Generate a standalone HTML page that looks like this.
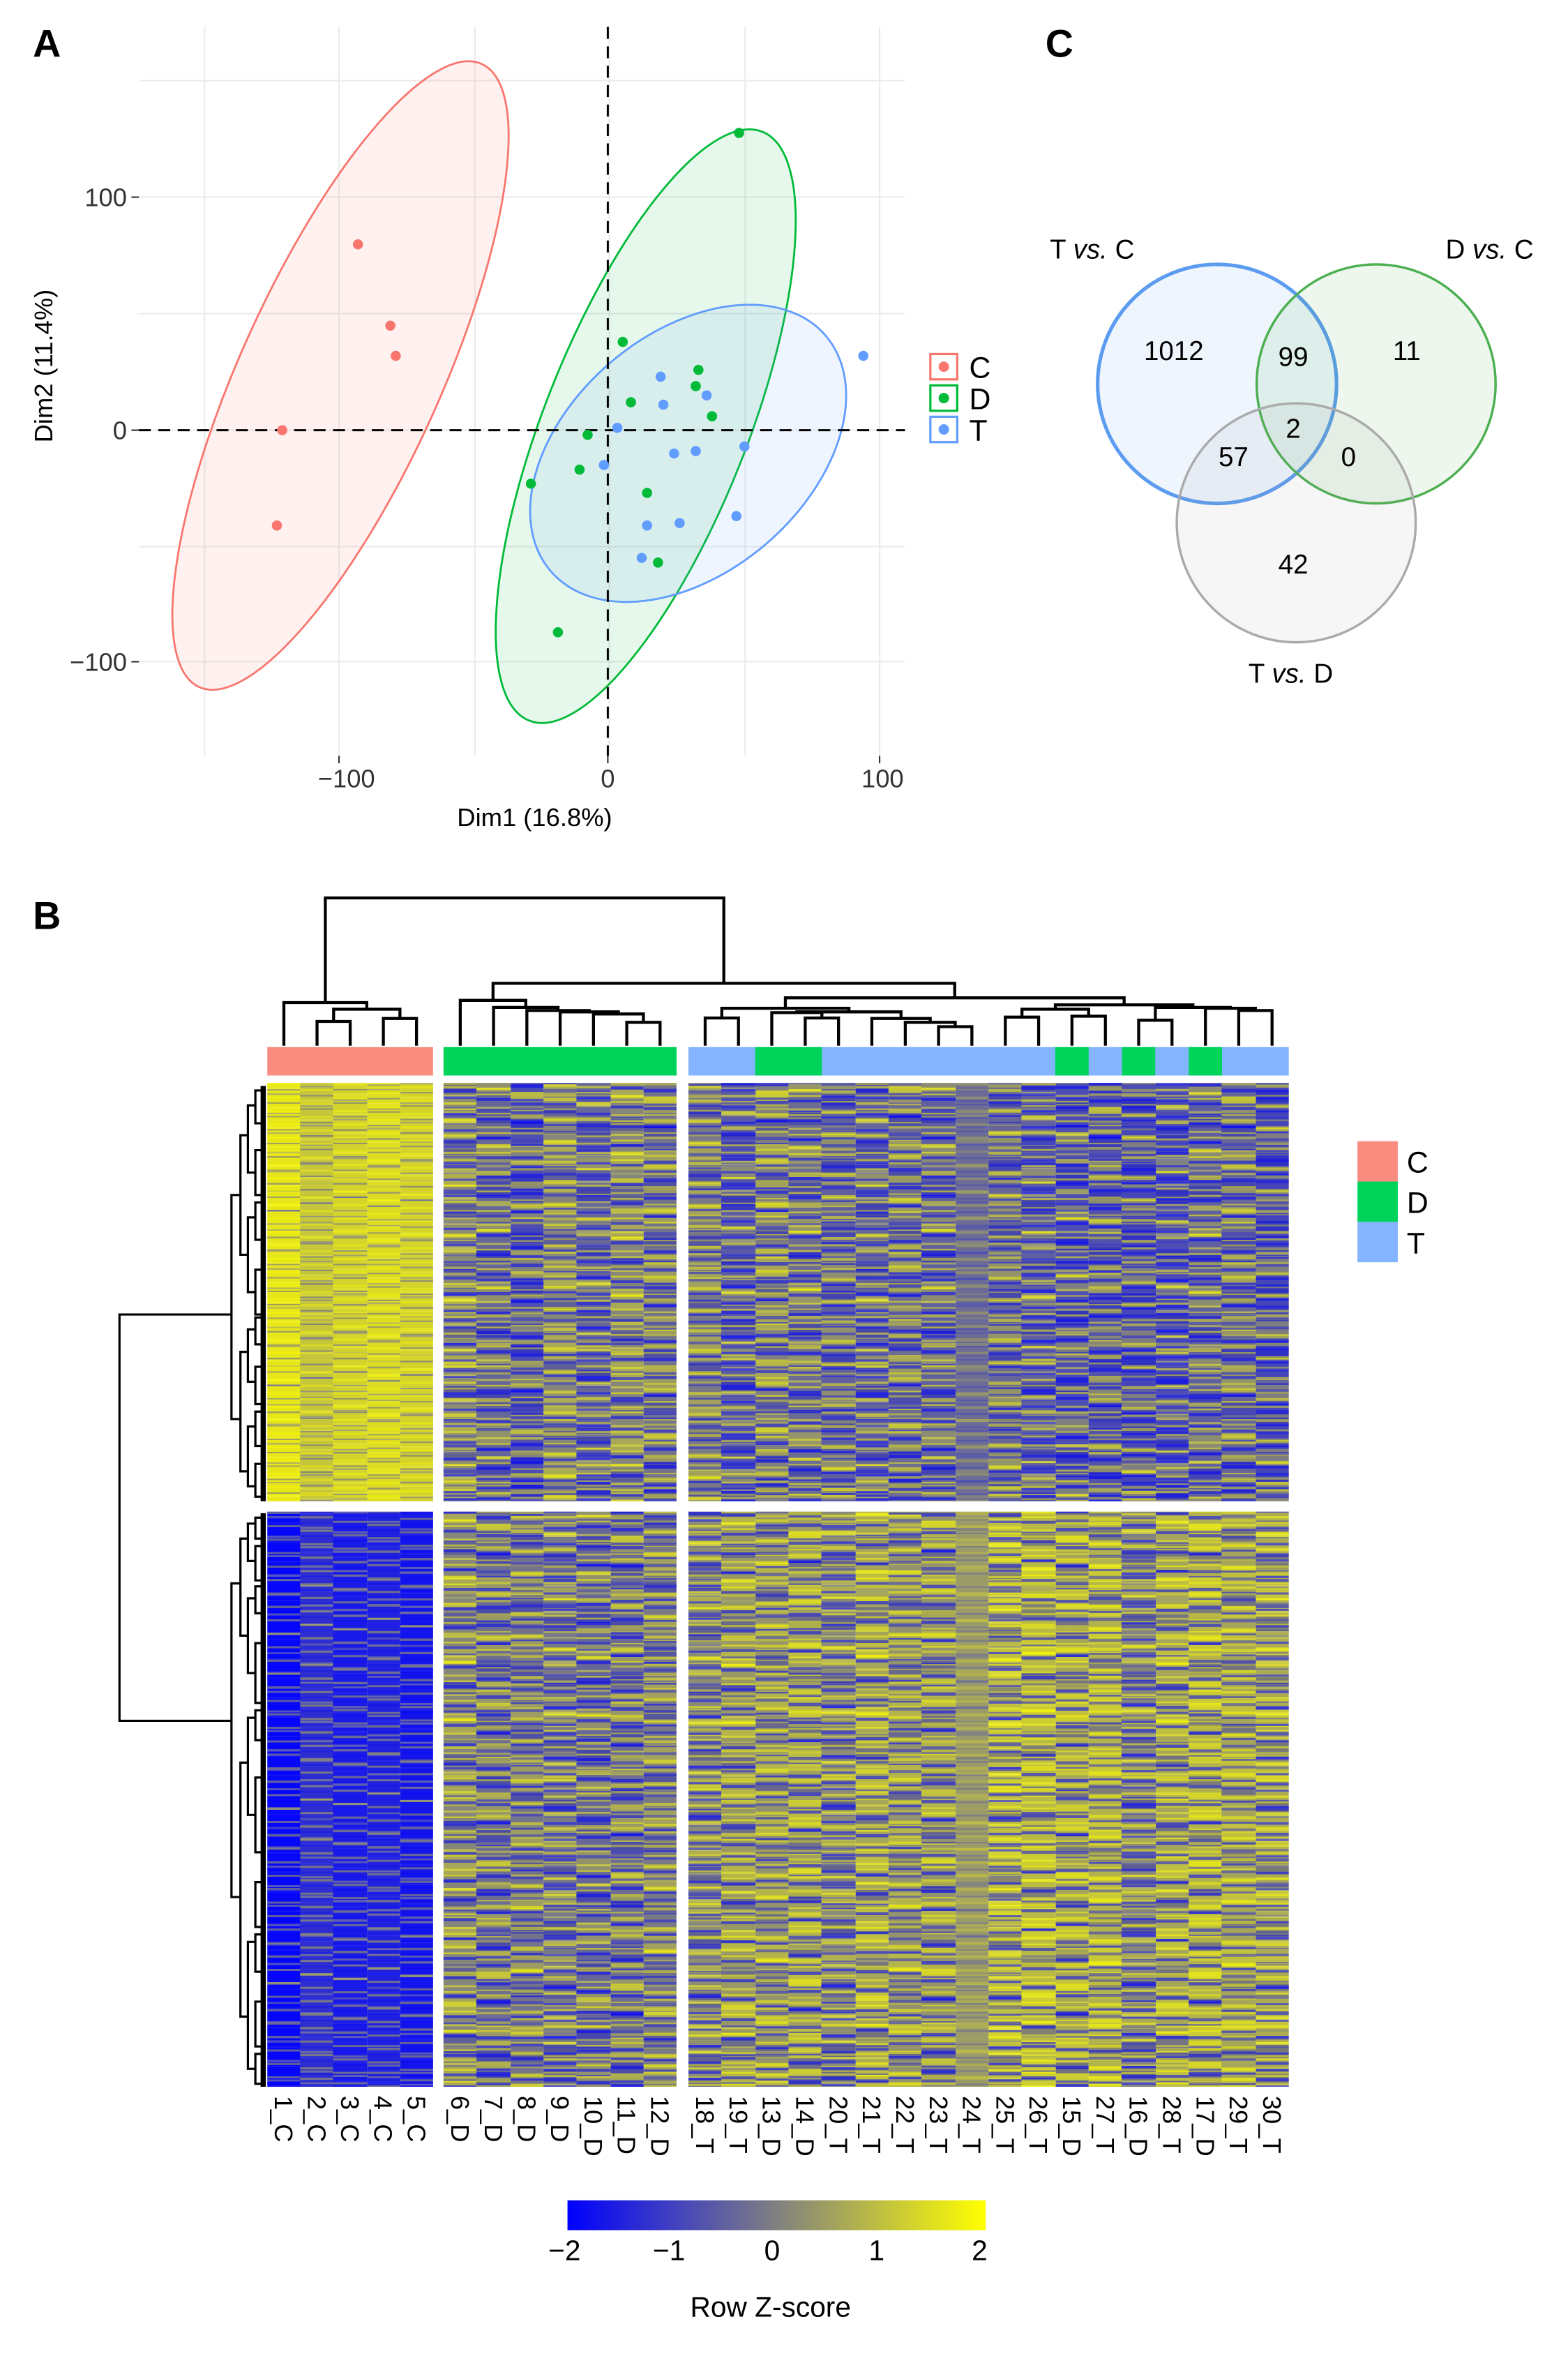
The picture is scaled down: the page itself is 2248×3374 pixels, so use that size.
<!DOCTYPE html>
<html><head><meta charset="utf-8">
<style>
html,body{margin:0;padding:0;background:#fff;}
#wrap{position:absolute;left:0;top:0;width:1050px;height:1576px;transform:scale(2.141);transform-origin:0 0;}
svg{position:absolute;left:0;top:0;font-family:"Liberation Sans",Arial,sans-serif;}
.h{position:absolute;}
.pa{background-image:
repeating-linear-gradient(180deg,rgba(20,20,255,.6) 0 1.5px,transparent 1.5px 4px,rgba(250,250,20,.55) 4px 5.5px,transparent 5.5px 7px,rgba(40,40,230,.4) 7px 8px,transparent 8px 11px),
repeating-linear-gradient(180deg,transparent 0 2px,rgba(255,255,0,.45) 2px 3.2px,transparent 3.2px 6px,rgba(0,0,255,.45) 6px 8.5px,transparent 8.5px 10px,rgba(255,255,60,.4) 10px 12px,transparent 12px 17px),
repeating-linear-gradient(180deg,rgba(0,0,200,.3) 0 9px,transparent 9px 21px,rgba(255,255,0,.3) 21px 30px,transparent 30px 41px);}
.pb{background-image:
repeating-linear-gradient(180deg,rgba(255,255,0,.55) 0 1.2px,transparent 1.2px 3px,rgba(0,0,255,.55) 3px 5px,transparent 5px 9px,rgba(255,255,30,.45) 9px 10.5px,transparent 10.5px 13px),
repeating-linear-gradient(180deg,transparent 0 4px,rgba(0,0,255,.45) 4px 5.5px,transparent 5.5px 9px,rgba(255,255,0,.45) 9px 11px,transparent 11px 19px),
repeating-linear-gradient(180deg,rgba(255,255,0,.28) 0 12px,transparent 12px 25px,rgba(0,0,220,.3) 25px 33px,transparent 33px 47px);}
.pc{background-image:
repeating-linear-gradient(180deg,rgba(0,0,255,.55) 0 2.2px,transparent 2.2px 5px,rgba(255,255,0,.5) 5px 6px,transparent 6px 8px,rgba(255,255,0,.4) 8px 9.5px,transparent 9.5px 12px),
repeating-linear-gradient(180deg,transparent 0 3px,rgba(255,255,0,.45) 3px 5px,transparent 5px 7px,rgba(0,0,255,.45) 7px 8.2px,transparent 8.2px 15px),
repeating-linear-gradient(180deg,rgba(0,0,220,.3) 0 7px,transparent 7px 17px,rgba(255,255,0,.3) 17px 28px,transparent 28px 37px);}
.pd{background-image:
repeating-linear-gradient(180deg,rgba(255,255,0,.5) 0 2px,transparent 2px 3.5px,rgba(0,0,255,.55) 3.5px 4.8px,transparent 4.8px 8px,rgba(0,0,255,.4) 8px 10px,transparent 10px 14px),
repeating-linear-gradient(180deg,transparent 0 5px,rgba(255,255,0,.45) 5px 6.5px,transparent 6.5px 11px,rgba(255,255,0,.35) 11px 13px,transparent 13px 16px),
repeating-linear-gradient(180deg,rgba(255,255,0,.3) 0 10px,transparent 10px 19px,rgba(0,0,220,.3) 19px 26px,transparent 26px 43px);}
.pl{background-image:
repeating-linear-gradient(180deg,rgba(255,255,0,.35) 0 1.5px,transparent 1.5px 4px,rgba(0,0,255,.3) 4px 5px,transparent 5px 9px),
repeating-linear-gradient(180deg,transparent 0 3px,rgba(255,255,60,.3) 3px 4.5px,transparent 4.5px 7px,rgba(60,60,255,.3) 7px 8px,transparent 8px 13px);}
.pg{background-image:
repeating-linear-gradient(180deg,rgba(255,255,0,.22) 0 2px,transparent 2px 5px,rgba(0,0,255,.2) 5px 6px,transparent 6px 9px),
repeating-linear-gradient(180deg,transparent 0 4px,rgba(255,255,0,.15) 4px 6px,transparent 6px 11px,rgba(0,0,255,.15) 11px 13px,transparent 13px 17px);}
</style></head>
<body>
<div id="wrap">
<svg width="1050" height="1576" viewBox="0 0 1050 1576">
<rect width="1050" height="1576" fill="#fff"/>
<!-- Panel A -->
<text x="22" y="38" font-size="26" font-weight="bold">A</text>
<g stroke="#ebebeb" stroke-width="1">
<line x1="93" x2="606" y1="54" y2="54"/><line x1="93" x2="606" y1="132" y2="132"/><line x1="93" x2="606" y1="210" y2="210"/><line x1="93" x2="606" y1="288" y2="288"/><line x1="93" x2="606" y1="366" y2="366"/><line x1="93" x2="606" y1="443" y2="443"/>
<line y1="18" y2="506" x1="137" x2="137"/><line y1="18" y2="506" x1="227" x2="227"/><line y1="18" y2="506" x1="318" x2="318"/><line y1="18" y2="506" x1="408" x2="408"/><line y1="18" y2="506" x1="499" x2="499"/><line y1="18" y2="506" x1="589" x2="589"/>
</g>
<ellipse cx="228" cy="251.4" rx="229" ry="67" transform="rotate(-65.6 228 251.4)" fill="#F8766D" fill-opacity="0.1" stroke="#F8766D" stroke-width="1.3"/>
<ellipse cx="432.4" cy="285.3" rx="212" ry="68" transform="rotate(-68.4 432.4 285.3)" fill="#00BA38" fill-opacity="0.1" stroke="#00BA38" stroke-width="1.3"/>
<ellipse cx="460.8" cy="303.5" rx="121.2" ry="80" transform="rotate(-40.5 460.8 303.5)" fill="#619CFF" fill-opacity="0.1" stroke="#619CFF" stroke-width="1.3"/>
<line x1="93" x2="606" y1="288" y2="288" stroke="#000" stroke-width="1.4" stroke-dasharray="8,5"/>
<line x1="407" x2="407" y1="18" y2="506" stroke="#000" stroke-width="1.4" stroke-dasharray="8,5"/>
<g fill="#F8766D"><circle cx="239.7" cy="163.6" r="3.4"/><circle cx="261.4" cy="218" r="3.4"/><circle cx="265" cy="238.2" r="3.4"/><circle cx="189" cy="288" r="3.4"/><circle cx="185.4" cy="351.8" r="3.4"/></g>
<g fill="#00BA38"><circle cx="494.9" cy="89" r="3.4"/><circle cx="417" cy="228.9" r="3.4"/><circle cx="467.7" cy="247.6" r="3.4"/><circle cx="465.9" cy="258.5" r="3.4"/><circle cx="422.5" cy="269.3" r="3.4"/><circle cx="476.8" cy="278.7" r="3.4"/><circle cx="393.5" cy="291.1" r="3.4"/><circle cx="388.1" cy="314.4" r="3.4"/><circle cx="355.5" cy="323.8" r="3.4"/><circle cx="433.3" cy="330" r="3.4"/><circle cx="440.6" cy="376.6" r="3.4"/><circle cx="373.6" cy="423.3" r="3.4"/></g>
<g fill="#619CFF"><circle cx="578.1" cy="238.2" r="3.4"/><circle cx="442.4" cy="252.2" r="3.4"/><circle cx="473.2" cy="264.7" r="3.4"/><circle cx="444.2" cy="270.9" r="3.4"/><circle cx="413.4" cy="286.4" r="3.4"/><circle cx="498.5" cy="298.9" r="3.4"/><circle cx="451.4" cy="303.6" r="3.4"/><circle cx="465.9" cy="302" r="3.4"/><circle cx="404.4" cy="311.3" r="3.4"/><circle cx="493.1" cy="345.5" r="3.4"/><circle cx="433.3" cy="351.8" r="3.4"/><circle cx="455.1" cy="350.2" r="3.4"/><circle cx="429.7" cy="373.5" r="3.4"/></g>
<g stroke="#333" stroke-width="1"><line x1="88" x2="93" y1="132" y2="132"/><line x1="88" x2="93" y1="288" y2="288"/><line x1="88" x2="93" y1="443" y2="443"/>
<line x1="227" x2="227" y1="506" y2="511"/><line x1="407" x2="407" y1="506" y2="511"/><line x1="589" x2="589" y1="506" y2="511"/></g>
<g font-size="17" fill="#333" text-anchor="end"><text x="85" y="138">100</text><text x="85" y="294">0</text><text x="85" y="449">−100</text></g>
<g font-size="17" fill="#333" text-anchor="middle"><text x="232" y="527">−100</text><text x="407" y="527">0</text><text x="591" y="527">100</text></g>
<text x="358" y="553" font-size="17" text-anchor="middle">Dim1 (16.8%)</text>
<text transform="translate(35,245) rotate(-90)" font-size="17" text-anchor="middle">Dim2 (11.4%)</text>
<rect x="623" y="237" width="18" height="17" fill="#fff" stroke="#F8766D" stroke-width="1.5"/><circle cx="632" cy="245.5" r="3.5" fill="#F8766D"/>
<rect x="623" y="258" width="18" height="17" fill="#fff" stroke="#00BA38" stroke-width="1.5"/><circle cx="632" cy="266.5" r="3.5" fill="#00BA38"/>
<rect x="623" y="279" width="18" height="17" fill="#fff" stroke="#619CFF" stroke-width="1.5"/><circle cx="632" cy="287.5" r="3.5" fill="#619CFF"/>
<g font-size="20"><text x="649" y="253">C</text><text x="649" y="274">D</text><text x="649" y="295">T</text></g>
<!-- Panel C -->
<text x="700" y="38" font-size="26" font-weight="bold">C</text>
<circle cx="815" cy="257" r="80" fill="#5b9bf0" fill-opacity="0.1" stroke="#5b9bf0" stroke-width="2.4"/>
<circle cx="921.5" cy="257" r="80" fill="#4caf50" fill-opacity="0.1" stroke="#4caf50" stroke-width="1.6"/>
<circle cx="868" cy="350" r="80" fill="#999" fill-opacity="0.09" stroke="#aaa" stroke-width="1.6"/>
<g font-size="18"><text x="703" y="173">T <tspan font-style="italic">vs.</tspan> C</text><text x="968" y="173">D <tspan font-style="italic">vs.</tspan> C</text><text x="836" y="457">T <tspan font-style="italic">vs.</tspan> D</text></g>
<g font-size="18" text-anchor="middle"><text x="786" y="241">1012</text><text x="866" y="245">99</text><text x="942" y="241">11</text><text x="866" y="293">2</text><text x="826" y="312">57</text><text x="903" y="312">0</text><text x="866" y="384">42</text></g>
<!-- Panel B -->
<text x="22" y="622" font-size="26" font-weight="bold">B</text>
<rect x="179" y="701" width="111" height="19" fill="#fa8c80"/>
<rect x="297" y="701" width="156.1" height="19" fill="#00d35a"/>
<rect x="461" y="701" width="402" height="19" fill="#84b4ff"/>
<rect x="505.7" y="701" width="44.6" height="19" fill="#00d35a"/>
<rect x="706.6" y="701" width="22.4" height="19" fill="#00d35a"/>
<rect x="751.3" y="701" width="22.3" height="19" fill="#00d35a"/>
<rect x="796" y="701" width="22.3" height="19" fill="#00d35a"/>
<g fill="none" stroke="#000" stroke-width="2">
<path d="M212.3,700V683.8H234.5V700"/><path d="M256.7,700V681.8H278.9V700"/><path d="M223.4,683.8V675.6H267.8V681.8"/><path d="M190.1,700V671.2H245.6V675.6"/>
<path d="M419.7,700V684.4H442V700"/><path d="M397.4,700V678.8H430.85V684.4"/><path d="M375.1,700V677.4H414.1V678.8"/><path d="M352.8,700V676.5H394.6V677.4"/><path d="M330.5,700V674.4H373.7V676.5"/><path d="M308.2,700V669.7H352.1V674.4"/>
<path d="M472.2,700V681.5H494.5V700"/><path d="M539.2,700V681.5H561.5V700"/><path d="M516.8,700V677.9H550.35V681.5"/>
<path d="M628.5,700V687.3H650.8V700"/><path d="M606.2,700V684.4H639.65V687.3"/><path d="M583.8,700V681.8H622.9V684.4"/>
<path d="M533.6,677.9V677.4H603.35V681.8"/><path d="M483.35,681.5V675H568.5V677.4"/>
<path d="M673.2,700V680.9H695.5V700"/><path d="M717.8,700V680.3H740.2V700"/><path d="M762.5,700V683H784.8V700"/><path d="M829.5,700V676.5H851.8V700"/><path d="M807.2,700V675H840.65V676.5"/>
<path d="M684.35,680.9V675.6H729V680.3"/><path d="M773.65,683V674.4H823.9V675"/><path d="M706.7,675.6V672.7H798.8V674.4"/>
<path d="M525.9,675V668H752.75V672.7"/><path d="M330.15,669.7V658.3H639.3V668"/><path d="M217.85,671.2V601.1H484.7V658.3"/>
</g>
<g fill="none" stroke="#000" stroke-width="1.5">
<path d="M155,880H80V1152H155"/>
<path d="M161,800H155V950H161"/><path d="M161,1060H155V1270H161"/>
<path d="M166,760H161V840H166"/><path d="M166,905H161V985H166"/><path d="M166,1030H161V1095H166"/><path d="M166,1180H161V1350H166"/>
<path d="M171,740H166V785H171"/><path d="M171,815H166V865H171"/><path d="M171,890H166V925H171"/><path d="M171,955H166V995H171"/>
<path d="M171,1020H166V1045H171"/><path d="M171,1070H166V1120H171"/><path d="M171,1150H166V1215H171"/><path d="M171,1300H166V1385H171"/>
<path d="M175,730H171V752H175"/><path d="M175,770H171V800H175"/><path d="M175,805H171V830H175"/><path d="M175,850H171V880H175"/><path d="M175,882H171V900H175"/><path d="M175,915H171V940H175"/><path d="M175,945H171V968H175"/><path d="M175,980H171V1002H175"/>
<path d="M175,1016H171V1030H175"/><path d="M175,1035H171V1058H175"/><path d="M175,1062H171V1080H175"/><path d="M175,1100H171V1140H175"/><path d="M175,1145H171V1165H175"/><path d="M175,1190H171V1240H175"/><path d="M175,1260H171V1290H175"/><path d="M175,1295H171V1320H175"/><path d="M175,1340H171V1370H175"/><path d="M175,1375H171V1395H175"/>
</g>
<rect x="174.5" y="727" width="3.5" height="278" fill="#000"/>
<rect x="174.5" y="1013" width="3.5" height="384" fill="#000"/>
<g font-size="17">
<text transform="translate(184.1,1403) rotate(90)">1_C</text>
<text transform="translate(206.3,1403) rotate(90)">2_C</text>
<text transform="translate(228.5,1403) rotate(90)">3_C</text>
<text transform="translate(250.7,1403) rotate(90)">4_C</text>
<text transform="translate(272.9,1403) rotate(90)">5_C</text>
<text transform="translate(302.2,1403) rotate(90)">6_D</text>
<text transform="translate(324.5,1403) rotate(90)">7_D</text>
<text transform="translate(346.8,1403) rotate(90)">8_D</text>
<text transform="translate(369.1,1403) rotate(90)">9_D</text>
<text transform="translate(391.4,1403) rotate(90)">10_D</text>
<text transform="translate(413.7,1403) rotate(90)">11_D</text>
<text transform="translate(436,1403) rotate(90)">12_D</text>
<text transform="translate(466.2,1403) rotate(90)">18_T</text>
<text transform="translate(488.5,1403) rotate(90)">19_T</text>
<text transform="translate(510.8,1403) rotate(90)">13_D</text>
<text transform="translate(533.2,1403) rotate(90)">14_D</text>
<text transform="translate(555.5,1403) rotate(90)">20_T</text>
<text transform="translate(577.8,1403) rotate(90)">21_T</text>
<text transform="translate(600.2,1403) rotate(90)">22_T</text>
<text transform="translate(622.5,1403) rotate(90)">23_T</text>
<text transform="translate(644.8,1403) rotate(90)">24_T</text>
<text transform="translate(667.2,1403) rotate(90)">25_T</text>
<text transform="translate(689.5,1403) rotate(90)">26_T</text>
<text transform="translate(711.8,1403) rotate(90)">15_D</text>
<text transform="translate(734.2,1403) rotate(90)">27_T</text>
<text transform="translate(756.5,1403) rotate(90)">16_D</text>
<text transform="translate(778.8,1403) rotate(90)">28_T</text>
<text transform="translate(801.2,1403) rotate(90)">17_D</text>
<text transform="translate(823.5,1403) rotate(90)">29_T</text>
<text transform="translate(845.8,1403) rotate(90)">30_T</text>
</g>
<rect x="909" y="764" width="27" height="27" fill="#fa8c80"/><rect x="909" y="791" width="27" height="27" fill="#00d35a"/><rect x="909" y="818" width="27" height="27" fill="#84b4ff"/>
<g font-size="20"><text x="942" y="785">C</text><text x="942" y="812">D</text><text x="942" y="839">T</text></g>
<defs><linearGradient id="gz" x1="0" x2="1" y1="0" y2="0"><stop offset="0" stop-color="#0000ff"/><stop offset="0.5" stop-color="#808080"/><stop offset="1" stop-color="#ffff00"/></linearGradient></defs>
<rect x="380" y="1473" width="280" height="20" fill="url(#gz)"/>
<g font-size="19" text-anchor="middle"><text x="378" y="1513">−2</text><text x="448" y="1513">−1</text><text x="517" y="1513">0</text><text x="587" y="1513">1</text><text x="656" y="1513">2</text></g>
<text x="516" y="1551" font-size="19" text-anchor="middle">Row Z-score</text>
</svg>
<div class="h pl" style="left:179px;top:725px;width:22.5px;height:280px;background-color:rgb(230,230,25);background-position:0 0"></div>
<div class="h pl" style="left:201.2px;top:725px;width:22.5px;height:280px;background-color:rgb(198,198,58);background-position:0 -5px"></div>
<div class="h pl" style="left:223.4px;top:725px;width:22.5px;height:280px;background-color:rgb(211,211,44);background-position:0 -9px"></div>
<div class="h pl" style="left:245.6px;top:725px;width:22.5px;height:280px;background-color:rgb(220,220,35);background-position:0 -3px"></div>
<div class="h pl" style="left:267.8px;top:725px;width:22.2px;height:280px;background-color:rgb(211,211,44);background-position:0 -7px"></div>
<div class="h pa" style="left:297px;top:725px;width:22.6px;height:280px;background-color:rgb(141,141,115);background-position:0 -2px"></div>
<div class="h pb" style="left:319.3px;top:725px;width:22.6px;height:280px;background-color:rgb(102,102,153);background-position:0 -6px"></div>
<div class="h pc" style="left:341.6px;top:725px;width:22.6px;height:280px;background-color:rgb(77,77,179);background-position:0 -11px"></div>
<div class="h pd" style="left:363.9px;top:725px;width:22.6px;height:280px;background-color:rgb(134,134,122);background-position:0 -4px"></div>
<div class="h pa" style="left:386.2px;top:725px;width:22.6px;height:280px;background-color:rgb(102,102,153);background-position:0 -13px"></div>
<div class="h pb" style="left:408.5px;top:725px;width:22.6px;height:280px;background-color:rgb(134,134,122);background-position:0 -1px"></div>
<div class="h pc" style="left:430.8px;top:725px;width:22.3px;height:280px;background-color:rgb(115,115,140);background-position:0 -8px"></div>
<div class="h pd" style="left:461px;top:725px;width:22.6px;height:280px;background-color:rgb(122,122,134);background-position:0 -3px"></div>
<div class="h pa" style="left:483.3px;top:725px;width:22.6px;height:280px;background-color:rgb(90,90,166);background-position:0 -7px"></div>
<div class="h pc" style="left:505.7px;top:725px;width:22.6px;height:280px;background-color:rgb(128,128,128);background-position:0 -12px"></div>
<div class="h pb" style="left:528px;top:725px;width:22.6px;height:280px;background-color:rgb(109,109,147);background-position:0 -5px"></div>
<div class="h pd" style="left:550.3px;top:725px;width:22.6px;height:280px;background-color:rgb(96,96,160);background-position:0 -9px"></div>
<div class="h pa" style="left:572.7px;top:725px;width:22.6px;height:280px;background-color:rgb(102,102,153);background-position:0 -2px"></div>
<div class="h pc" style="left:595px;top:725px;width:22.6px;height:280px;background-color:rgb(109,109,147);background-position:0 -15px"></div>
<div class="h pb" style="left:617.3px;top:725px;width:22.6px;height:280px;background-color:rgb(96,96,160);background-position:0 -6px"></div>
<div class="h pg" style="left:639.6px;top:725px;width:22.6px;height:280px;background-color:rgb(108,108,150);background-position:0 0"></div>
<div class="h pd" style="left:662px;top:725px;width:22.6px;height:280px;background-color:rgb(102,102,153);background-position:0 -10px"></div>
<div class="h pa" style="left:684.3px;top:725px;width:22.6px;height:280px;background-color:rgb(96,96,160);background-position:0 -4px"></div>
<div class="h pb" style="left:706.6px;top:725px;width:22.6px;height:280px;background-color:rgb(77,77,179);background-position:0 -14px"></div>
<div class="h pc" style="left:729px;top:725px;width:22.6px;height:280px;background-color:rgb(83,83,172);background-position:0 -1px"></div>
<div class="h pd" style="left:751.3px;top:725px;width:22.6px;height:280px;background-color:rgb(70,70,185);background-position:0 -7px"></div>
<div class="h pa" style="left:773.6px;top:725px;width:22.6px;height:280px;background-color:rgb(77,77,179);background-position:0 -11px"></div>
<div class="h pb" style="left:796px;top:725px;width:22.6px;height:280px;background-color:rgb(96,96,160);background-position:0 -3px"></div>
<div class="h pc" style="left:818.3px;top:725px;width:22.6px;height:280px;background-color:rgb(102,102,153);background-position:0 -8px"></div>
<div class="h pd" style="left:840.6px;top:725px;width:22.4px;height:280px;background-color:rgb(70,70,185);background-position:0 -13px"></div>
<div class="h pl" style="left:179px;top:1012px;width:22.5px;height:385px;background-color:rgb(6,6,249);background-position:0 0"></div>
<div class="h pl" style="left:201.2px;top:1012px;width:22.5px;height:385px;background-color:rgb(45,45,210);background-position:0 -6px"></div>
<div class="h pl" style="left:223.4px;top:1012px;width:22.5px;height:385px;background-color:rgb(26,26,230);background-position:0 -3px"></div>
<div class="h pl" style="left:245.6px;top:1012px;width:22.5px;height:385px;background-color:rgb(32,32,223);background-position:0 -10px"></div>
<div class="h pl" style="left:267.8px;top:1012px;width:22.2px;height:385px;background-color:rgb(19,19,236);background-position:0 -5px"></div>
<div class="h pb" style="left:297px;top:1012px;width:22.6px;height:385px;background-color:rgb(134,134,122);background-position:0 -4px"></div>
<div class="h pc" style="left:319.3px;top:1012px;width:22.6px;height:385px;background-color:rgb(109,109,147);background-position:0 -9px"></div>
<div class="h pd" style="left:341.6px;top:1012px;width:22.6px;height:385px;background-color:rgb(115,115,140);background-position:0 -2px"></div>
<div class="h pa" style="left:363.9px;top:1012px;width:22.6px;height:385px;background-color:rgb(122,122,134);background-position:0 -12px"></div>
<div class="h pb" style="left:386.2px;top:1012px;width:22.6px;height:385px;background-color:rgb(102,102,153);background-position:0 -7px"></div>
<div class="h pc" style="left:408.5px;top:1012px;width:22.6px;height:385px;background-color:rgb(109,109,147);background-position:0 -1px"></div>
<div class="h pd" style="left:430.8px;top:1012px;width:22.3px;height:385px;background-color:rgb(122,122,134);background-position:0 -15px"></div>
<div class="h pa" style="left:461px;top:1012px;width:22.6px;height:385px;background-color:rgb(141,141,115);background-position:0 -6px"></div>
<div class="h pb" style="left:483.3px;top:1012px;width:22.6px;height:385px;background-color:rgb(153,153,102);background-position:0 -2px"></div>
<div class="h pd" style="left:505.7px;top:1012px;width:22.6px;height:385px;background-color:rgb(147,147,109);background-position:0 -9px"></div>
<div class="h pc" style="left:528px;top:1012px;width:22.6px;height:385px;background-color:rgb(160,160,96);background-position:0 -4px"></div>
<div class="h pa" style="left:550.3px;top:1012px;width:22.6px;height:385px;background-color:rgb(141,141,115);background-position:0 -13px"></div>
<div class="h pb" style="left:572.7px;top:1012px;width:22.6px;height:385px;background-color:rgb(166,166,90);background-position:0 -8px"></div>
<div class="h pd" style="left:595px;top:1012px;width:22.6px;height:385px;background-color:rgb(147,147,109);background-position:0 -3px"></div>
<div class="h pc" style="left:617.3px;top:1012px;width:22.6px;height:385px;background-color:rgb(147,147,109);background-position:0 -11px"></div>
<div class="h pg" style="left:639.6px;top:1012px;width:22.6px;height:385px;background-color:rgb(155,155,105);background-position:0 0"></div>
<div class="h pa" style="left:662px;top:1012px;width:22.6px;height:385px;background-color:rgb(192,192,64);background-position:0 -5px"></div>
<div class="h pb" style="left:684.3px;top:1012px;width:22.6px;height:385px;background-color:rgb(185,185,70);background-position:0 -10px"></div>
<div class="h pc" style="left:706.6px;top:1012px;width:22.6px;height:385px;background-color:rgb(166,166,90);background-position:0 -1px"></div>
<div class="h pd" style="left:729px;top:1012px;width:22.6px;height:385px;background-color:rgb(179,179,77);background-position:0 -7px"></div>
<div class="h pa" style="left:751.3px;top:1012px;width:22.6px;height:385px;background-color:rgb(134,134,122);background-position:0 -14px"></div>
<div class="h pb" style="left:773.6px;top:1012px;width:22.6px;height:385px;background-color:rgb(166,166,90);background-position:0 -3px"></div>
<div class="h pc" style="left:796px;top:1012px;width:22.6px;height:385px;background-color:rgb(179,179,77);background-position:0 -9px"></div>
<div class="h pd" style="left:818.3px;top:1012px;width:22.6px;height:385px;background-color:rgb(166,166,90);background-position:0 -6px"></div>
<div class="h pa" style="left:840.6px;top:1012px;width:22.4px;height:385px;background-color:rgb(172,172,83);background-position:0 -12px"></div>
</div>
</body></html>
